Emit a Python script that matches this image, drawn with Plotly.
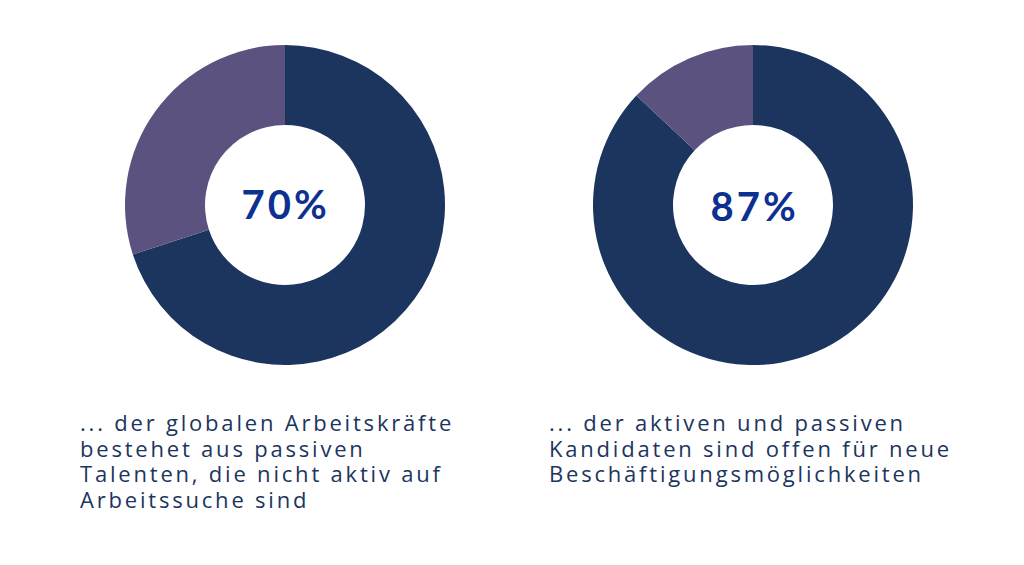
import plotly.graph_objects as go

# Data
left_values = [70, 30]
right_values = [87, 13]
slice_labels = ["aktiv / offen", "andere"]
left_center = "70%"
right_center = "87%"
left_caption = ["... der globalen Arbeitskräfte", "bestehet aus passiven",
                "Talenten, die nicht aktiv auf", "Arbeitssuche sind"]
right_caption = ["... der aktiven und passiven", "Kandidaten sind offen für neue",
                 "Beschäftigungsmöglichkeiten"]

DARK = "#1c355e"
PURPLE = "#5b5280"
NUM = "#0d3190"

W, H = 1024, 565

def dom(cx, cy, r):
    return dict(x=[(cx - r) / W, (cx + r) / W], y=[(H - cy - r) / H, (H - cy + r) / H])

fig = go.Figure()
for vals, cx in [(left_values, 285), (right_values, 753)]:
    fig.add_trace(go.Pie(
        values=vals, labels=slice_labels, hole=0.5, sort=False, direction="clockwise",
        rotation=0, marker=dict(colors=[DARK, PURPLE], line=dict(width=0)),
        textinfo="none", hoverinfo="none", showlegend=False,
        domain=dom(cx, 205, 160),
    ))

annotations = [
    dict(text=left_center, x=285 / W, y=(H - 204) / H),
    dict(text=right_center, x=754 / W, y=(H - 206) / H),
]
for a in annotations:
    a.update(xref="paper", yref="paper", showarrow=False, xanchor="center", yanchor="middle",
             font=dict(family="Lato, Open Sans, sans-serif", size=40, color=NUM, weight="bold"))

for lines, x0, ytop in [(left_caption, 78, 405), (right_caption, 547, 404.5)]:
    annotations.append(dict(
        text="<br>".join(lines), x=x0 / W, y=(H - ytop) / H, xref="paper", yref="paper",
        showarrow=False, xanchor="left", yanchor="top", align="left",
        font=dict(family="Open Sans, sans-serif", size=22, color=DARK),
    ))

fig.update_layout(
    width=W, height=H, margin=dict(l=0, r=0, t=0, b=0),
    paper_bgcolor="white", plot_bgcolor="white", annotations=annotations,
)

post = """
document.body.style.margin = '0';
var gd = document.getElementById('{plot_id}');
function ls(){
  gd.querySelectorAll('text.annotation-text').forEach(function(t){
    if (t.textContent.indexOf('%') >= 0) { t.style.letterSpacing = '3px'; }
    else {
      t.style.letterSpacing = '2.8px';
      t.querySelectorAll('tspan.line').forEach(function(s, i){
        s.setAttribute('dy', (i * 1.16) + 'em');
      });
    }
  });
}
ls();
gd.on('plotly_afterplot', ls);
"""

fig.write_html("out.html", post_script=post, config={"displayModeBar": False})
